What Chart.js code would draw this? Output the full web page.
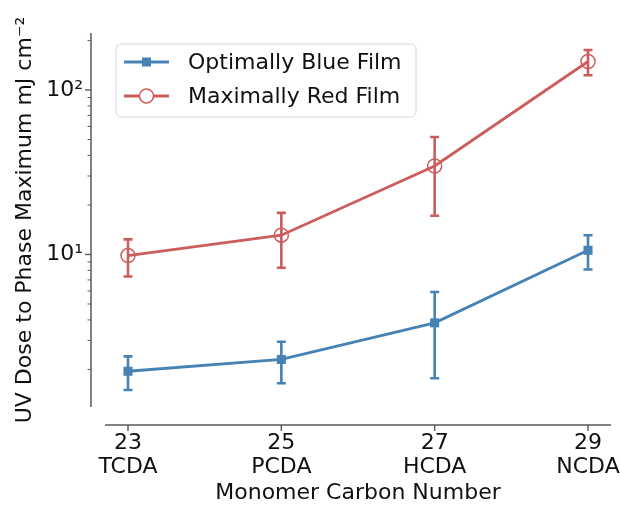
<!DOCTYPE html>
<html>
<head>
<meta charset="utf-8">
<script src="https://cdn.jsdelivr.net/npm/chart.js@4.4.1/dist/chart.umd.min.js"></script>
<style>
  html, body { margin: 0; padding: 0; background: #fff; }
  #wrap { width: 621px; height: 507px; }
</style>
</head>
<body>
<div id="wrap"><canvas id="doseChart" width="621" height="507"></canvas></div>
<script>
// ===================================
// DATA
// ===================================
const carbonNumbers = [23, 25, 27, 29];
const monomerNames = ['TCDA', 'PCDA', 'HCDA', 'NCDA'];

const blueDose = [1.95, 2.3, 3.84, 10.6];
const blueErr = [0.45, 0.65, 2.07, 2.5];
const redDose = [9.85, 13.1, 34.5, 149];
const redErr = [2.5, 4.8, 17.3, 26];

// ===================================
// STYLE
// ===================================
const BLUE = '#4682b4';
const RED = '#cd5c5c';
const TEXT = '#111111';
const SPINE = '#5a5a5a';
const FONT = { family: 'DejaVu Sans', size: 22 };
const SPINE_SHIFT_X = 14;   // left spine pushed out from the axes box
const SPINE_SHIFT_Y = 18;   // bottom spine pushed out from the axes box

// axis limits with a 5% margin (log space for y)
const lows = blueDose.map((v, i) => v - blueErr[i]).concat(redDose.map((v, i) => v - redErr[i]));
const highs = blueDose.map((v, i) => v + blueErr[i]).concat(redDose.map((v, i) => v + redErr[i]));
const logLo = Math.log10(Math.min(...lows));
const logHi = Math.log10(Math.max(...highs));
const yMin = Math.pow(10, logLo - 0.05 * (logHi - logLo));
const yMax = Math.pow(10, logHi + 0.05 * (logHi - logLo));
const xSpan = carbonNumbers[carbonNumbers.length - 1] - carbonNumbers[0];
const xMin = carbonNumbers[0] - 0.05 * xSpan;
const xMax = carbonNumbers[carbonNumbers.length - 1] + 0.05 * xSpan;

const isPow10 = v => Math.abs(Math.log10(v) - Math.round(Math.log10(v))) < 1e-9;
const SUP = { '-': '⁻', '0': '⁰', '1': '¹', '2': '²', '3': '³' };

// ===================================
// PLUGINS
// ===================================
const errorBars = {
    id: 'errorBars',
    afterDatasetsDraw(chart) {
        const { ctx, scales: { y } } = chart;
        chart.data.datasets.forEach((ds, di) => {
            const meta = chart.getDatasetMeta(di);
            ctx.save();
            ctx.strokeStyle = ds.borderColor;
            ctx.lineWidth = 2.6;
            meta.data.forEach((pt, i) => {
                const v = ds.data[i].y;
                const top = y.getPixelForValue(v + ds.errors[i]);
                const bot = y.getPixelForValue(v - ds.errors[i]);
                ctx.beginPath();
                ctx.moveTo(pt.x, top); ctx.lineTo(pt.x, bot);
                ctx.moveTo(pt.x - 4.5, top); ctx.lineTo(pt.x + 4.5, top);
                ctx.moveTo(pt.x - 4.5, bot); ctx.lineTo(pt.x + 4.5, bot);
                ctx.stroke();
            });
            ctx.restore();
        });
    }
};

const spines = {
    id: 'spines',
    afterDraw(chart) {
        const { ctx, chartArea: a, scales: { x, y } } = chart;
        const sx = a.left - SPINE_SHIFT_X;
        const sy = a.bottom + SPINE_SHIFT_Y;
        ctx.save();
        ctx.strokeStyle = SPINE;
        ctx.lineWidth = 1.5;
        ctx.beginPath();
        ctx.moveTo(sx, a.top); ctx.lineTo(sx, a.bottom);
        ctx.moveTo(a.left, sy); ctx.lineTo(a.right, sy);
        ctx.stroke();

        y.ticks.forEach(t => {
            const py = y.getPixelForValue(t.value);
            const major = isPow10(t.value);
            ctx.lineWidth = major ? 1.4 : 1;
            ctx.beginPath();
            ctx.moveTo(sx - (major ? 6 : 3.5), py); ctx.lineTo(sx, py);
            ctx.stroke();
        });
        ctx.lineWidth = 1.4;
        x.ticks.forEach(t => {
            const px = x.getPixelForValue(t.value);
            ctx.beginPath();
            ctx.moveTo(px, sy); ctx.lineTo(px, sy + 6);
            ctx.stroke();
        });
        ctx.restore();
    }
};

const boxedLegend = {
    id: 'boxedLegend',
    afterDraw(chart) {
        const ctx = chart.ctx;
        const bx = 116, by = 44, bw = 300, bh = 73, r = 5;
        ctx.save();
        ctx.beginPath();
        ctx.moveTo(bx + r, by);
        ctx.arcTo(bx + bw, by, bx + bw, by + bh, r);
        ctx.arcTo(bx + bw, by + bh, bx, by + bh, r);
        ctx.arcTo(bx, by + bh, bx, by, r);
        ctx.arcTo(bx, by, bx + bw, by, r);
        ctx.closePath();
        ctx.fillStyle = 'rgba(255,255,255,0.8)';
        ctx.fill();
        ctx.strokeStyle = '#d6d6d6';
        ctx.lineWidth = 1;
        ctx.stroke();

        ctx.font = `${FONT.size}px ${FONT.family}`;
        ctx.textBaseline = 'middle';
        chart.data.datasets.forEach((ds, i) => {
            const cy = 62 + i * 34;
            ctx.strokeStyle = ds.borderColor;
            ctx.lineWidth = 2.8;
            ctx.beginPath();
            ctx.moveTo(124, cy); ctx.lineTo(169, cy);
            ctx.stroke();
            if (ds.pointStyle === 'rect') {
                ctx.fillStyle = ds.borderColor;
                ctx.fillRect(146.5 - 4.5, cy - 4.5, 9, 9);
            } else {
                ctx.lineWidth = 1.5;
                ctx.beginPath();
                ctx.arc(146.5, cy, ds.pointRadius, 0, Math.PI * 2);
                ctx.fillStyle = '#fff';
                ctx.fill();
                ctx.stroke();
            }
            ctx.fillStyle = TEXT;
            ctx.fillText(ds.label, 188, cy + 1);
        });
        ctx.restore();
    }
};

// ===================================
// CHART
// ===================================
const ctx = document.getElementById('doseChart');
new Chart(ctx, {
    type: 'line',
    data: {
        datasets: [
            {
                label: 'Optimally Blue Film',
                data: carbonNumbers.map((c, i) => ({ x: c, y: blueDose[i] })),
                errors: blueErr,
                borderColor: BLUE,
                borderWidth: 2.8,
                pointStyle: 'rect',
                pointRadius: 6.4,
                pointBackgroundColor: BLUE,
                pointBorderColor: BLUE,
                pointBorderWidth: 0,
                tension: 0
            },
            {
                label: 'Maximally Red Film',
                data: carbonNumbers.map((c, i) => ({ x: c, y: redDose[i] })),
                errors: redErr,
                borderColor: RED,
                borderWidth: 2.8,
                pointStyle: 'circle',
                pointRadius: 7,
                pointBackgroundColor: 'rgba(0,0,0,0)',
                pointBorderColor: RED,
                pointBorderWidth: 1.5,
                tension: 0
            }
        ]
    },
    options: {
        responsive: false,
        animation: false,
        layout: { padding: { top: 33, right: 10, left: 0, bottom: 0 } },
        plugins: {
            legend: { display: false },
            tooltip: { enabled: false }
        },
        scales: {
            x: {
                type: 'linear',
                min: xMin,
                max: xMax,
                afterBuildTicks: s => { s.ticks = carbonNumbers.map(v => ({ value: v })); },
                afterFit: s => {
                    s.height = 100;
                    s.paddingLeft = 0;
                    s.paddingRight = 0;
                },
                grid: { display: false, drawTicks: false },
                border: { display: false },
                ticks: {
                    autoSkip: false,
                    maxRotation: 0,
                    padding: 24,
                    font: { ...FONT, lineHeight: 1.1 },
                    color: TEXT,
                    callback: v => {
                        const i = carbonNumbers.indexOf(v);
                        return i < 0 ? '' : [String(v), monomerNames[i]];
                    }
                },
                title: {
                    display: true,
                    text: 'Monomer Carbon Number',
                    font: FONT,
                    color: TEXT,
                    padding: { top: 0, bottom: 1 }
                }
            },
            y: {
                type: 'logarithmic',
                min: yMin,
                max: yMax,
                afterBuildTicks: s => {
                    const ticks = [];
                    for (let e = Math.floor(Math.log10(yMin)); e <= Math.ceil(Math.log10(yMax)); e++) {
                        for (let m = 1; m < 10; m++) {
                            const v = m * Math.pow(10, e);
                            if (v >= yMin && v <= yMax) ticks.push({ value: v });
                        }
                    }
                    s.ticks = ticks;
                },
                afterFit: s => {
                    s.width = 105;
                    s.paddingTop = 0;
                    s.paddingBottom = 0;
                },
                grid: { display: false, drawTicks: false },
                border: { display: false },
                ticks: {
                    autoSkip: false,
                    padding: 22,
                    font: FONT,
                    color: TEXT,
                    callback: v => isPow10(v)
                        ? '10' + String(Math.round(Math.log10(v))).split('').map(c => SUP[c]).join('')
                        : ''
                },
                title: {
                    display: true,
                    text: 'UV Dose to Phase Maximum mJ cm⁻²',
                    font: FONT,
                    color: TEXT,
                    padding: { top: 12, bottom: 0 }
                }
            }
        }
    },
    plugins: [errorBars, spines, boxedLegend]
});
</script>
</body>
</html>
